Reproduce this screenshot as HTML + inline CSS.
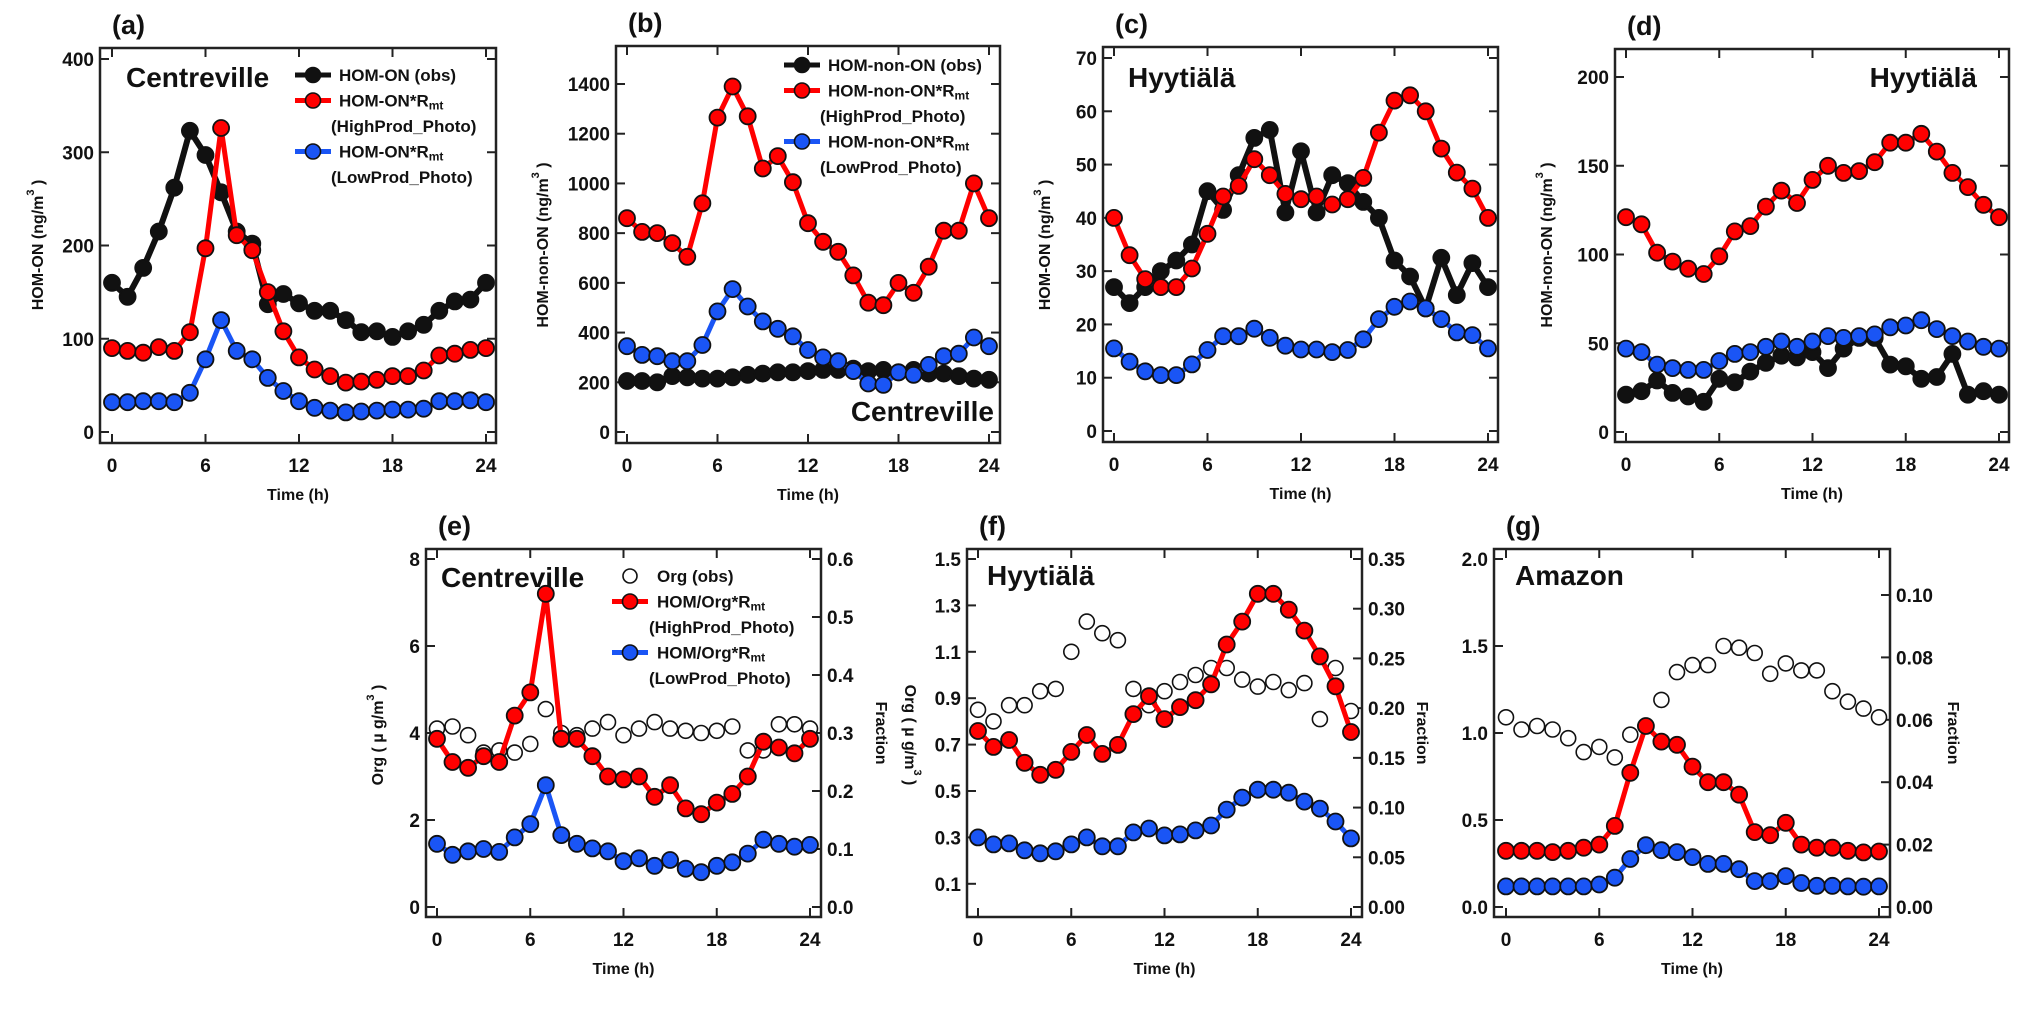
<!DOCTYPE html>
<html><head><meta charset="utf-8"><style>
html,body{margin:0;padding:0;background:#fff;}
svg{display:block;font-family:"Liberation Sans",Arial,sans-serif;}
text{font-weight:bold;fill:#111;}
</style></head><body>
<svg id="fig" width="2031" height="1030" viewBox="0 0 2031 1030" xmlns="http://www.w3.org/2000/svg"></svg>
<script>
const hours = [0,1,2,3,4,5,6,7,8,9,10,11,12,13,14,15,16,17,18,19,20,21,22,23,24];
const xTicks = [0,6,12,18,24];
// (a) Centreville HOM-ON
const aObs  = [160,145,176,215,262,323,297,257,215,202,137,148,138,130,130,120,107,108,102,108,115,130,140,142,160];
const aHigh = [90,87,85,91,87,107,197,326,211,195,150,108,80,67,60,53,54,56,60,60,66,82,84,88,90];
const aLow  = [32,32,33,33,32,42,78,120,87,78,58,44,33,26,23,21,22,23,24,24,25,33,33,34,32];
const aTicks = [0,100,200,300,400];
// (b) Centreville HOM-non-ON
const bObs  = [205,205,200,225,220,215,215,220,230,235,240,240,245,250,250,255,245,250,240,250,235,235,225,215,210];
const bHigh = [860,805,800,760,705,920,1265,1390,1270,1060,1110,1005,840,765,725,630,520,510,600,560,665,810,810,1000,860];
const bLow  = [345,310,305,285,285,350,485,575,505,445,415,385,330,300,285,245,195,190,240,230,270,305,315,380,345];
const bTicks = [0,200,400,600,800,1000,1200,1400];
// (c) Hyytiala HOM-ON
const cObs  = [27,24,27,30,32,35,45,41.5,48,55,56.5,41,52.5,41,48,46.5,43,40,32,29,23,32.5,25.5,31.5,27];
const cHigh = [40,33,28.5,27,27,30.5,37,44,46,51,48,44.5,43.5,44,42.5,43.5,47.5,56,62,63,60,53,48.5,45.5,40];
const cLow  = [15.5,13,11.2,10.5,10.5,12.5,15.2,17.8,17.8,19.2,17.5,16,15.3,15.3,14.8,15.2,17.2,21,23.3,24.3,23,21,18.5,18,15.5];
const cTicks = [0,10,20,30,40,50,60,70];
// (d) Hyytiala HOM-non-ON
const dObs  = [21,23,29,22,20,17,30,28,34,39,43,42,45,36,47,53,53,38,37,30,31,44,21,23,21];
const dHigh = [121,117,101,96,92,89,99,113,116,127,136,129,142,150,146,147,152,163,163,168,158,146,138,128,121];
const dLow  = [47,45,38,36,35,35,40,44,45,48,51,48,51,54,53,54,55,59,60,63,58,54,51,48,47];
const dTicks = [0,50,100,150,200];
// (e) Centreville Org / fraction
const eOrg  = [4.1,4.15,3.95,3.55,3.6,3.55,3.75,4.55,4.0,3.95,4.1,4.25,3.95,4.1,4.25,4.1,4.05,4.0,4.05,4.15,3.6,3.6,4.2,4.2,4.1];
const eHigh = [0.29,0.25,0.24,0.26,0.25,0.33,0.37,0.54,0.29,0.29,0.26,0.225,0.22,0.225,0.19,0.21,0.17,0.16,0.18,0.195,0.225,0.285,0.275,0.265,0.29];
const eLow  = [0.109,0.09,0.096,0.1,0.095,0.12,0.143,0.21,0.124,0.109,0.101,0.096,0.079,0.084,0.071,0.081,0.066,0.06,0.071,0.077,0.092,0.116,0.109,0.104,0.107];
const eLeftTicks = [0,2,4,6,8];
const eRightTicks = [0.0,0.1,0.2,0.3,0.4,0.5,0.6];
const eRightLabels = ["0.0","0.1","0.2","0.3","0.4","0.5","0.6"];
// (f) Hyytiala Org / fraction
const fOrg  = [0.85,0.8,0.87,0.87,0.93,0.94,1.1,1.23,1.18,1.15,0.94,0.87,0.93,0.97,1.0,1.03,1.03,0.98,0.95,0.97,0.935,0.965,0.81,1.03,0.845];
const fHigh = [0.177,0.161,0.168,0.145,0.133,0.138,0.156,0.173,0.154,0.163,0.194,0.212,0.189,0.201,0.208,0.224,0.264,0.287,0.315,0.315,0.299,0.278,0.252,0.222,0.176];
const fLow  = [0.07,0.063,0.064,0.057,0.054,0.056,0.063,0.07,0.061,0.061,0.075,0.079,0.072,0.073,0.077,0.082,0.098,0.11,0.118,0.118,0.115,0.106,0.099,0.086,0.069];
const fLeftTicks = [0.1,0.3,0.5,0.7,0.9,1.1,1.3,1.5];
const fLeftLabels = ["0.1","0.3","0.5","0.7","0.9","1.1","1.3","1.5"];
const fRightTicks = [0,0.05,0.1,0.15,0.2,0.25,0.3,0.35];
const fRightLabels = ["0.00","0.05","0.10","0.15","0.20","0.25","0.30","0.35"];
// (g) Amazon Org / fraction
const gOrg  = [1.09,1.02,1.04,1.02,0.97,0.89,0.92,0.86,0.99,null,1.19,1.35,1.39,1.39,1.50,1.49,1.46,1.34,1.40,1.36,1.36,1.24,1.18,1.14,1.09];
const gHigh = [0.018,0.018,0.018,0.0176,0.018,0.019,0.020,0.026,0.043,0.058,0.053,0.052,0.045,0.040,0.040,0.036,0.024,0.023,0.027,0.020,0.019,0.019,0.018,0.0175,0.0178];
const gLow  = [0.0066,0.0066,0.0066,0.0066,0.0066,0.0066,0.0072,0.0094,0.0154,0.0198,0.0182,0.0176,0.016,0.0138,0.0138,0.0121,0.0083,0.0083,0.0099,0.0077,0.0068,0.0068,0.0066,0.0065,0.0066];
const gLeftTicks = [0,0.5,1.0,1.5,2.0];
const gLeftLabels = ["0.0","0.5","1.0","1.5","2.0"];
const gRightTicks = [0,0.02,0.04,0.06,0.08,0.10];
const gRightLabels = ["0.00","0.02","0.04","0.06","0.08","0.10"];

const NS = "http://www.w3.org/2000/svg";
const svg = document.getElementById('fig');
function mk(tag, attrs, parent){
  const e = document.createElementNS(NS, tag);
  for (const k in attrs) e.setAttribute(k, attrs[k]);
  (parent||svg).appendChild(e);
  return e;
}
function txt(s, attrs, parent){ const t = mk('text', attrs, parent); t.textContent = s; return t; }
function linScale(v0,p0,v1,p1){ return v => p0 + (v - v0)*(p1 - p0)/(v1 - v0); }

const RED = "#ff0000", BLUE = "#1a55f5";

function drawPanel(P){
  const g = mk('g', {});
  
  
  const [L,T,R,B] = P.frame;
  const xs = linScale(0, P.x0, 24, P.x24);
  const yl = linScale(0, P.yl0, P.ylv, P.ylp);
  const yr = P.right ? linScale(0, P.yr0, P.yrv, P.yrp) : yl;
  // frame
  const fr = mk('rect', {x:L, y:T, width:R-L, height:B-T, fill:'none', stroke:'#222', 'stroke-width':2.5}, g);
  
  
  // x ticks
  xTicks.forEach(h => {
    const x = xs(h);
    const tb = mk('line', {x1:x, x2:x, y1:B, y2:B-9, stroke:'#222', 'stroke-width':2}, g);
    
    
    const tt = mk('line', {x1:x, x2:x, y1:T, y2:T+9, stroke:'#222', 'stroke-width':2}, g);
    
    
    const tl = txt(String(h), {x:x, y:B+29, 'font-size':19, 'text-anchor':'middle'}, g);
    
    
  });
  const xt = txt('Time (h)', {x:(L+R)/2, y:B+57, 'font-size':16, 'text-anchor':'middle'}, g);
  
  
  // left ticks
  P.lt.forEach((v,i) => {
    const y = yl(v);
    const t1 = mk('line', {x1:L, x2:L+9, y1:y, y2:y, stroke:'#222', 'stroke-width':2}, g);
    
    
    const lab = txt(P.ll ? P.ll[i] : String(v), {x:L-6, y:y+7, 'font-size':19, 'text-anchor':'end'}, g);
    
    
    if (!P.right){
      const t2 = mk('line', {x1:R, x2:R-9, y1:y, y2:y, stroke:'#222', 'stroke-width':2}, g);
      
      
    }
  });
  if (P.right){
    P.rt.forEach((v,i) => {
      const y = yr(v);
      const t2 = mk('line', {x1:R, x2:R-9, y1:y, y2:y, stroke:'#222', 'stroke-width':2}, g);
      
      
      const lab = txt(P.rl[i], {x:R+6, y:y+7, 'font-size':19, 'text-anchor':'start'}, g);
      
      
    });
    const fx = P.fracX;
    const ft = txt('Fraction', {x:fx, y:(T+B)/2, 'font-size':16, 'text-anchor':'middle', transform:'rotate(90 '+fx+' '+((T+B)/2)+')'}, g);
    
    
  }
  // y title
  if (P.ytitle){
    const cx = P.ytx, cy = P.yty;
    const rot = P.ytRot || -90;
    const yt = mk('text', {x:cx, y:cy, 'font-size':16, 'text-anchor':'middle', transform:'rotate('+rot+' '+cx+' '+cy+')'}, g);
    
    
    yt.appendChild(document.createTextNode(P.ytitle));
    const sup = mk('tspan', {dy:-9, 'font-size':11}, yt); sup.textContent = '3';
    const cl = mk('tspan', {dy:9}, yt); cl.textContent = ' )';
  }
  // panel label
  const pl = txt('(' + P.id + ')', {x:L+12, y:T-14, 'font-size':27, 'text-anchor':'start'}, g);
  
  
  if (P.site){
    const st = txt(P.site[0], {x:P.site[1], y:P.site[2], 'font-size':28, 'text-anchor':P.site[3]||'start'}, g);
    
    
  }
  // series
  P.series.forEach(s => {
    const ys = s.axis === 'r' ? yr : yl;
    const sg = mk('g', {}, g);
    
    
    if (s.line){
      let d = '';
      s.data.forEach((v,i) => { if (v === null) return; d += (d ? 'L' : 'M') + xs(hours[i]).toFixed(1) + ' ' + ys(v).toFixed(1); });
      const pth = mk('path', {d:d, fill:'none', stroke:s.line, 'stroke-width':s.lw||5, 'stroke-linejoin':'round'}, sg);
      
      
    }
    s.data.forEach((v,i) => {
      if (v === null) return;
      const c = mk('circle', {cx:xs(hours[i]).toFixed(1), cy:ys(v).toFixed(1), r:s.open ? 7.5 : 8, fill:s.fill, stroke:'#111', 'stroke-width':s.open ? 1.6 : 1.8}, sg);
      
      
    });
  });
  // legend
  if (P.legend){
    const lg = mk('g', {}, g);
    
    
    const [lx, ly, rows] = P.legend;
    rows.forEach((r,i) => {
      const y = ly + i*25.5;
      if (r.color){
        const ln = mk('line', {x1:lx, x2:lx+36, y1:y, y2:y, stroke:r.color, 'stroke-width':5}, lg);
        
        
      }
      if (r.marker){
        const mc = mk('circle', {cx:lx+18, cy:y, r:r.open ? 7 : 7.5, fill:r.marker, stroke:'#111', 'stroke-width':1.6}, lg);
        
        
      }
      const t = mk('text', {x:lx + (r.indent||44), y:y+6, 'font-size':17}, lg);
      
      
      t.appendChild(document.createTextNode(r.text));
      if (r.sub){ const sb = mk('tspan', {'font-size':12, dy:3}, t); sb.textContent = r.sub; }
    });
  }
}

function leg3(base, lowbase){
  return [
    {color:'#111', marker:'#111', text:base + ' (obs)'},
    {color:RED, marker:RED, text:base + '*R', sub:'mt'},
    {text:'(HighProd_Photo)', indent:36},
    {color:BLUE, marker:BLUE, text:base + '*R', sub:'mt'},
    {text:'(LowProd_Photo)', indent:36}
  ];
}

drawPanel({id:'a', frame:[100,48,496,443], x0:112, x24:486, yl0:432, ylv:400, ylp:59, lt:aTicks,
  ytitle:'HOM-ON (ng/m', ytx:43, yty:245, site:['Centreville',126,87],
  legend:[295,75,leg3('HOM-ON')],
  series:[{name:'obs',data:aObs,line:'#111',fill:'#111',lw:6},{name:'highprod',data:aHigh,line:RED,fill:RED},{name:'lowprod',data:aLow,line:BLUE,fill:BLUE}]});
drawPanel({id:'b', frame:[616,46,1000,443], x0:627, x24:989, yl0:432, ylv:1400, ylp:84, lt:bTicks,
  ytitle:'HOM-non-ON (ng/m', ytx:548, yty:245, site:['Centreville',994,421,'end'],
  legend:[784,65,leg3('HOM-non-ON')],
  series:[{name:'obs',data:bObs,line:'#111',fill:'#111',lw:6},{name:'highprod',data:bHigh,line:RED,fill:RED},{name:'lowprod',data:bLow,line:BLUE,fill:BLUE}]});
drawPanel({id:'c', frame:[1103,47,1498,442], x0:1114, x24:1488, yl0:431, ylv:70, ylp:58, lt:cTicks,
  ytitle:'HOM-ON (ng/m', ytx:1050, yty:245, site:['Hyytiälä',1128,87],
  series:[{name:'obs',data:cObs,line:'#111',fill:'#111',lw:6},{name:'highprod',data:cHigh,line:RED,fill:RED},{name:'lowprod',data:cLow,line:BLUE,fill:BLUE}]});
drawPanel({id:'d', frame:[1615,49,2009,442], x0:1626, x24:1999, yl0:432, ylv:200, ylp:77, lt:dTicks,
  ytitle:'HOM-non-ON (ng/m', ytx:1552, yty:245, site:['Hyytiälä',1977,87,'end'],
  series:[{name:'obs',data:dObs,line:'#111',fill:'#111',lw:6},{name:'highprod',data:dHigh,line:RED,fill:RED},{name:'lowprod',data:dLow,line:BLUE,fill:BLUE}]});
drawPanel({id:'e', frame:[426,549,821,917], x0:437, x24:810, yl0:907, ylv:8, ylp:559, lt:eLeftTicks,
  right:true, yr0:907, yrv:0.6, yrp:559, rt:eRightTicks, rl:eRightLabels, fracX:876,
  ytitle:'Org ( µ g/m', ytx:383, yty:735, site:['Centreville',441,587],
  legend:[612,576,[
    {marker:'#fff', open:true, text:'Org (obs)', indent:45},
    {color:RED, marker:RED, text:'HOM/Org*R', sub:'mt', indent:45},
    {text:'(HighProd_Photo)', indent:37},
    {color:BLUE, marker:BLUE, text:'HOM/Org*R', sub:'mt', indent:45},
    {text:'(LowProd_Photo)', indent:37}]],
  series:[{name:'org-obs',data:eOrg,fill:'#fff',open:true},{name:'highprod',data:eHigh,axis:'r',line:RED,fill:RED},{name:'lowprod',data:eLow,axis:'r',line:BLUE,fill:BLUE}]});
drawPanel({id:'f', frame:[967,549,1362,917], x0:978, x24:1351, yl0:907, ylv:1.5, ylp:559, lt:fLeftTicks, ll:fLeftLabels,
  right:true, yr0:907, yrv:0.35, yrp:559, rt:fRightTicks, rl:fRightLabels, fracX:1417,
  ytitle:'Org ( µ g/m', ytx:905, yty:735, ytRot:90, site:['Hyytiälä',987,585],
  series:[{name:'org-obs',data:fOrg,fill:'#fff',open:true},{name:'highprod',data:fHigh,axis:'r',line:RED,fill:RED},{name:'lowprod',data:fLow,axis:'r',line:BLUE,fill:BLUE}]});
drawPanel({id:'g', frame:[1494,549,1890,917], x0:1506, x24:1879, yl0:907, ylv:2.0, ylp:559, lt:gLeftTicks, ll:gLeftLabels,
  right:true, yr0:907, yrv:0.10, yrp:595, rt:gRightTicks, rl:gRightLabels, fracX:1948,
  site:['Amazon',1515,585],
  series:[{name:'org-obs',data:gOrg,fill:'#fff',open:true},{name:'highprod',data:gHigh,axis:'r',line:RED,fill:RED},{name:'lowprod',data:gLow,axis:'r',line:BLUE,fill:BLUE}]});
</script>
</body></html>
